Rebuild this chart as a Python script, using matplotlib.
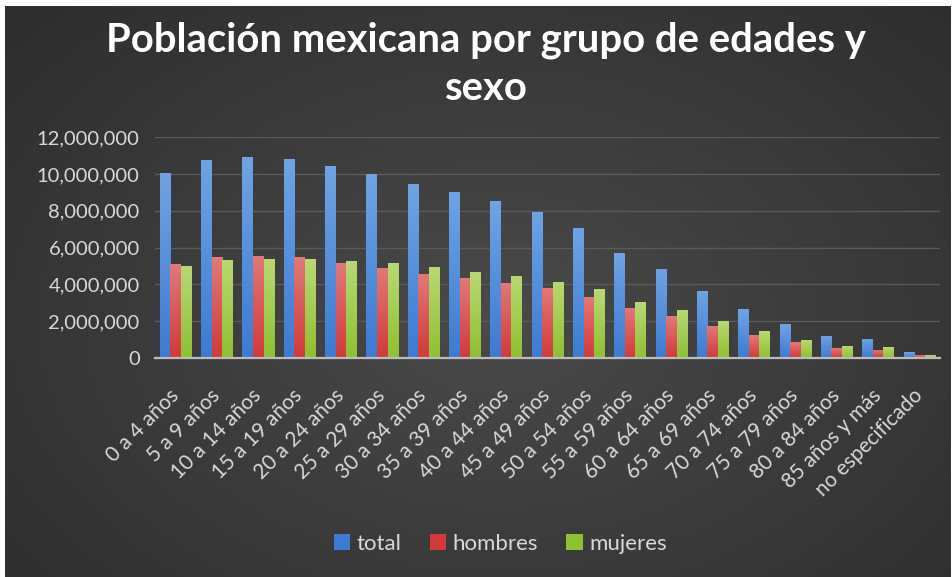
import numpy as np
import matplotlib
matplotlib.use("Agg")
import matplotlib.pyplot as plt
from matplotlib.colors import LinearSegmentedColormap

plt.rcParams["font.family"] = ["Lato", "DejaVu Sans"]

# Población por grupo quinquenal de edad
grupos = ["0 a 4 años", "5 a 9 años", "10 a 14 años", "15 a 19 años",
          "20 a 24 años", "25 a 29 años", "30 a 34 años", "35 a 39 años",
          "40 a 44 años", "45 a 49 años", "50 a 54 años", "55 a 59 años",
          "60 a 64 años", "65 a 69 años", "70 a 74 años", "75 a 79 años",
          "80 a 84 años", "85 años y más", "no especificado"]
total = [10070000, 10760000, 10940000, 10810000, 10430000, 10000000,
         9440000, 9040000, 8530000, 7950000, 7050000, 5720000, 4850000,
         3660000, 2660000, 1830000, 1200000, 1050000, 310000]
hombres = [5110000, 5470000, 5560000, 5470000, 5180000, 4870000, 4550000,
           4330000, 4090000, 3820000, 3330000, 2700000, 2280000, 1740000,
           1250000, 850000, 530000, 450000, 160000]
mujeres = [5000000, 5330000, 5400000, 5360000, 5270000, 5150000, 4930000,
           4690000, 4470000, 4150000, 3730000, 3030000, 2590000, 1990000,
           1450000, 990000, 670000, 610000, 150000]
yticks = [0, 2000000, 4000000, 6000000, 8000000, 10000000, 12000000]

series = [("total", total, "#3d7bd2", "#6fa3e3"),
          ("hombres", hombres, "#d13a3a", "#e27878"),
          ("mujeres", mujeres, "#8fc032", "#b9d874")]

W, H = 953, 577
fig = plt.figure(figsize=(W / 100, H / 100), dpi=100, facecolor="white")

# fondo oscuro con degradado radial
bg = fig.add_axes([5 / W, 0, 946 / W, 571 / H], zorder=-2)
gy, gx = np.mgrid[0:1:300j, 0:1:500j]
r = np.sqrt(((gx - 0.52) / 0.75) ** 2 + ((gy - 0.45) / 0.85) ** 2)
shade = 0.29 - 0.12 * np.clip(r, 0, 1)
bg.imshow(np.dstack([shade, shade, shade]), aspect="auto", origin="lower",
          extent=[0, 1, 0, 1])
bg.set_axis_off()

ax = fig.add_axes([155 / W, 1 - 358 / H, 785 / W, (358 - 137.3) / H])
ax.set_facecolor("none")

x = np.arange(len(grupos))
bw = 0.255
handles = []
for i, (name, vals, c_bot, c_top) in enumerate(series):
    bars = ax.bar(x + (i - 1) * bw, vals, width=bw, color=c_bot, label=name,
                  zorder=2, linewidth=0)
    handles.append(bars)
    cmap = LinearSegmentedColormap.from_list(name, [c_bot, c_top])
    grad = np.linspace(0, 1, 64).reshape(-1, 1)
    for p in bars.patches:
        x0, y0, w, h = p.get_x(), p.get_y(), p.get_width(), p.get_height()
        im = ax.imshow(grad, extent=[x0, x0 + w, y0, y0 + h], origin="lower",
                       aspect="auto", cmap=cmap, zorder=2.5)
        im.set_clip_path(p)

ax.set_xlim(-0.5, len(grupos) - 0.5)
ax.set_ylim(0, 12000000)
ax.set_yticks(yticks)
ax.set_yticklabels([f"{v:,.0f}" for v in yticks])
ax.set_xticks(x)
ax.set_xticklabels(grupos, rotation=45, ha="right", va="center",
                   rotation_mode="anchor")
ax.tick_params(axis="both", length=0, colors="#d9d9d9")
ax.tick_params(axis="y", pad=11, labelsize=14.5)
ax.tick_params(axis="x", pad=25, labelsize=15)
ax.grid(axis="y", color="#5a5a5a", linewidth=1, zorder=0)
for s in ["top", "right", "left"]:
    ax.spines[s].set_visible(False)
ax.spines["bottom"].set_color("#bcbcbc")
ax.spines["bottom"].set_linewidth(1.6)
ax.spines["bottom"].set_zorder(3)

fig.text(0.51, 1 - 40 / H, "Población mexicana por grupo de edades y",
         ha="center", va="center", color="white", fontsize=28.8,
         fontweight="bold")
fig.text(0.51, 1 - 88 / H, "sexo", ha="center", va="center", color="white",
         fontsize=28.8, fontweight="bold")

leg = fig.legend(handles=handles, loc="center", bbox_to_anchor=(0.525, 1 - 544 / H),
                 ncol=3, frameon=False, fontsize=16, handlelength=0.75,
                 handleheight=0.75, handletextpad=0.3, columnspacing=1.25)
for t in leg.get_texts():
    t.set_color("#d9d9d9")

fig.savefig("out.png", dpi=100, facecolor=fig.get_facecolor())
